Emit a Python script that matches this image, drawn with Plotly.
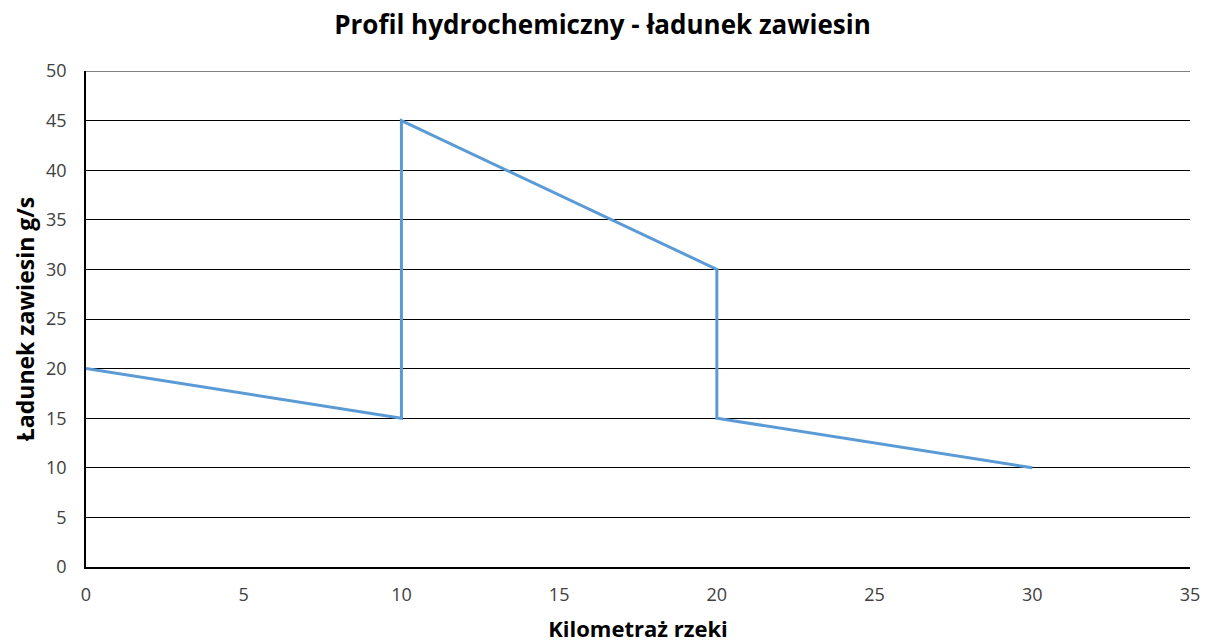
import plotly.graph_objects as go

km = [0, 10, 10, 20, 20, 30]
load = [20, 15, 45, 30, 15, 10]
x_ticks = [0, 5, 10, 15, 20, 25, 30, 35]
y_ticks = [0, 5, 10, 15, 20, 25, 30, 35, 40, 45, 50]

fig = go.Figure()
fig.add_trace(go.Scatter(x=km, y=load, mode="lines",
                         line=dict(color="#5B9BD5", width=3), showlegend=False))

font = "Open Sans, Liberation Sans, sans-serif"
tickfont = dict(family=font, size=18, color="#404040")
fig.update_layout(
    width=1205, height=643,
    paper_bgcolor="white", plot_bgcolor="white",
    margin=dict(l=86, r=15, t=71, b=76),
    title=dict(text="<b>Profil hydrochemiczny - ładunek zawiesin</b>",
               x=0.5, xanchor="center", y=0.961, yanchor="middle",
               font=dict(family=font, size=26, color="black")),
    font=dict(family=font, size=18, color="#404040"),
    xaxis=dict(range=[0, 35], tickvals=x_ticks, showgrid=False,
               showline=True, linecolor="black", linewidth=1.5,
               ticks="", zeroline=False, automargin=False,
               tickfont=tickfont, ticklabelstandoff=11,
               title=dict(text="<b>Kilometraż rzeki</b>", standoff=22,
                          font=dict(family=font, size=22, color="black"))),
    yaxis=dict(range=[0, 50], tickvals=y_ticks, showgrid=True,
               gridcolor="black", gridwidth=1,
               showline=True, linecolor="black", linewidth=1.5,
               ticks="", zeroline=False, automargin=False,
               tickfont=tickfont, ticklabelstandoff=14,
               title=dict(text="<b>Ładunek zawiesin g/s</b>", standoff=5,
                          font=dict(family=font, size=23, color="black"))),
    shapes=[dict(type="line", xref="paper", yref="y", x0=0, x1=1, y0=50, y1=50,
                 line=dict(color="black", width=1), layer="below")],
)
fig.write_html("out.html", config={"displayModeBar": False},
               post_script="document.body.style.margin='0';document.body.style.overflow='hidden';")
